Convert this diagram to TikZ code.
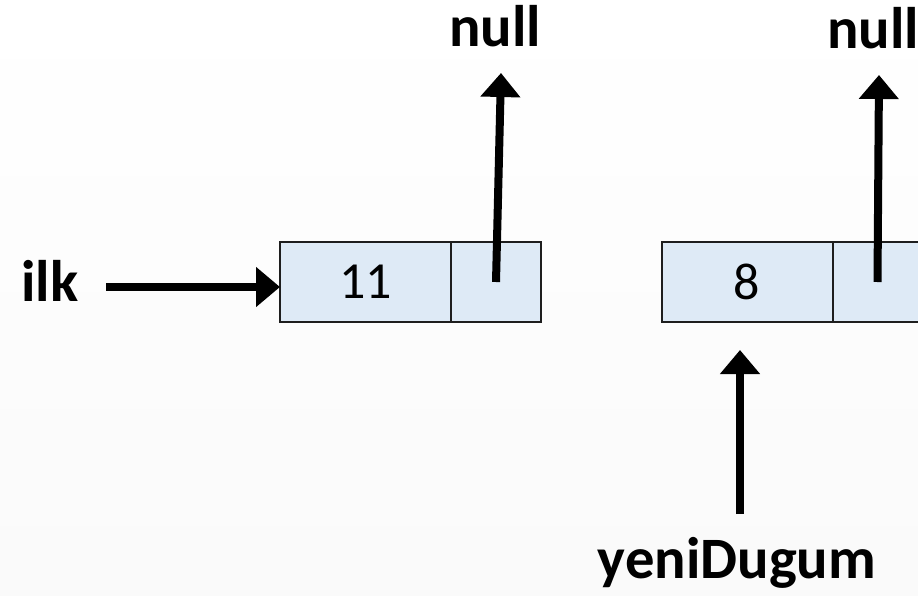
\documentclass[tikz,border=0pt]{standalone}
\usepackage{fontspec}
\setmainfont{Carlito}
\usepackage{tikz}
\usetikzlibrary{positioning, arrows.meta}
\definecolor{cellfill}{RGB}{222, 234, 246}
\definecolor{cellline}{RGB}{30, 30, 30}

\tikzset{
	cell/.style={draw=cellline, fill=cellfill, line width=1.5pt, outer sep=0pt, inner sep=0pt,
		minimum height=60pt, font=\fontsize{39}{44}\selectfont},
	label/.style={font=\fontsize{44}{49}\selectfont\bfseries, inner sep=0pt},
	ptr/.style={line width=6pt, -{Triangle[width=29pt, length=18pt]}}
}

\begin{document}
\begin{tikzpicture}[x=0.75pt, y=-0.75pt]
			\def\vw{128.25pt}
			\def\pw{67.5pt}

			% --- Background ---
			\useasboundingbox (0,0) rectangle (918,596);
			\clip (0,0) rectangle (918,596);
			\shade[top color=white, bottom color=black!2] (0,0) rectangle (918,596);

			% --- First node: 11 ---
			\node[cell, minimum width=\vw] (val1) at (365.5,282) {11};
			\node[cell, minimum width=\pw, right=0pt of val1] (ptr1) {};

			% --- Second node: 8 ---
			\node[cell, minimum width=\vw] (val2) at (747,282) {8};
			\node[cell, minimum width=\pw, right=0pt of val2] (ptr2) {};

			% Labels
			\node[label] (ilk) at (50,281) {ilk};
			\node[label] (null1) at (495,26) {null};
			\node[label] (null2) at (873,28) {null};
			\node[label] (yeni) at (737,563) {yeniDugum};

			% Arrow ends
			\coordinate (ilkstart) at (106,287);
			\coordinate (n1tip) at (501,73);
			\coordinate (n2tip) at (879,75);
			\coordinate (ytail) at (740,514);
			\coordinate (ytip) at (740,350);

			% --- Arrows ---
			\draw[ptr] (ilkstart) -- (ilkstart -| val1.west);
			\draw[ptr] (ptr1.center) -- (n1tip);
			\draw[ptr] (ptr2.center) -- (n2tip);
			\draw[ptr] (ytail) -- (ytip);
		\end{tikzpicture}
\end{document}
